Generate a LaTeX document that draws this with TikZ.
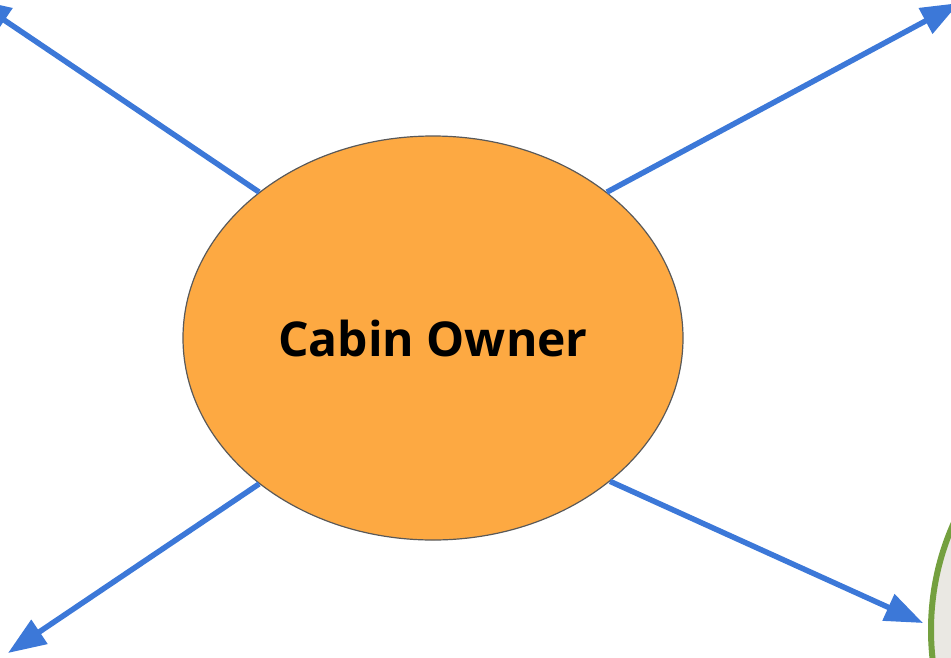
\documentclass[tikz,border=0pt]{standalone}
\usepackage{fontspec}
\setmainfont{Open Sans}
\usepackage{xcolor}
\usetikzlibrary{arrows.meta,shapes.geometric}
\definecolor{linkblue}{HTML}{3C78D8}
\definecolor{owner}{HTML}{FDA942}
\definecolor{rim}{HTML}{595959}
\definecolor{leaf}{HTML}{74A03F}
\definecolor{stone}{HTML}{EAE8E3}

\begin{document}
\begin{tikzpicture}[x=1pt,y=-1pt,actor/.style={ellipse,draw=rim,line width=1.2pt,fill=owner,minimum width=500pt,minimum height=404pt,font=\fontsize{48}{58}\selectfont\bfseries},other/.style={circle,draw=leaf,line width=6pt,fill=stone,minimum size=524pt},link/.style={-{Triangle[length=38pt,width=28pt]},draw=linkblue,line width=5.5pt}]
\useasboundingbox (0,0) rectangle (951,657);
\clip (0,0) rectangle (951,657);
\node[other] (guest) at (1193,630) {};
\node[actor] (cabin) at (433,338) {Cabin Owner};
\coordinate (nw) at (-27,-1);
\coordinate (ne) at (959,3);
\coordinate (sw) at (8,653);
\coordinate (se) at (923,623);
\draw[link] (cabin.140) -- (nw);
\draw[link] (cabin.40) -- (ne);
\draw[link] (cabin.220) -- (sw);
\draw[link] (cabin.321) -- (se);
\end{tikzpicture}
\end{document}
